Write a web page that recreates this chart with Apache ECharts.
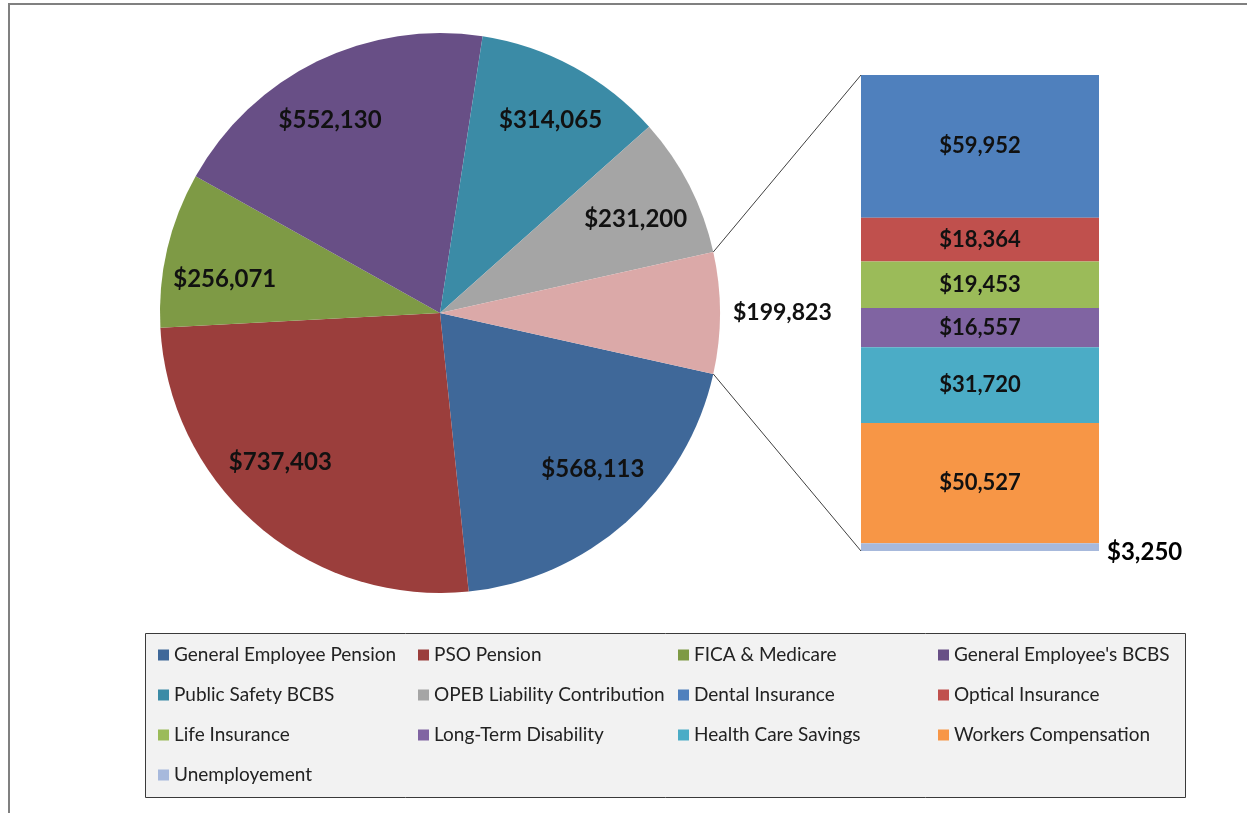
<!DOCTYPE html>
<html>
<head>
<meta charset="utf-8">
<script src="https://cdn.jsdelivr.net/npm/echarts@6/dist/echarts.min.js"></script>
<style>html,body{margin:0;padding:0;background:#fff}#c{width:1247px;height:813px}</style>
</head>
<body>
<div id="c"></div>
<script>
const pieNames = ['General Employee Pension', 'PSO Pension', 'FICA & Medicare', "General Employee's BCBS", 'Public Safety BCBS', 'OPEB Liability Contribution', 'Other'];
const pieValues = [568113, 737403, 256071, 552130, 314065, 231200, 199823];
const pieColors = ['#3f6899', '#9b3e3c', '#7e9a45', '#684f86', '#3b8ba6', '#a5a5a5', '#dba9a8'];
const barNames = ['Dental Insurance', 'Optical Insurance', 'Life Insurance', 'Long-Term Disability', 'Health Care Savings', 'Workers Compensation', 'Unemployement'];
const barValues = [59952, 18364, 19453, 16557, 31720, 50527, 3250];
const barColors = ['#4f80bd', '#c0504d', '#9bbb59', '#8064a2', '#4bacc6', '#f79646', '#a7b9dc'];
const barCategory = ['Other'];
const legendColumns = [
  ['General Employee Pension', 'Public Safety BCBS', 'Life Insurance', 'Unemployement'],
  ['PSO Pension', 'OPEB Liability Contribution', 'Long-Term Disability'],
  ['FICA & Medicare', 'Dental Insurance', 'Health Care Savings'],
  ["General Employee's BCBS", 'Optical Insurance', 'Workers Compensation']
];
// label nudges (styling only) to mimic the original label placement
const pieLabelNudges = [[6, -9], [-16, -19], [0, 16], [-13, 6], [5, 1], [-1, 7], [0, 0]];

const FONT = 'Lato';
const fmt = v => '$' + v.toLocaleString('en-US');
const total = pieValues.reduce((a, b) => a + b, 0);
const otherIdx = pieNames.indexOf('Other');
const startAngle = -pieValues[otherIdx] / total * 180;
const barTotal = barValues.reduce((a, b) => a + b, 0);

const chart = echarts.init(document.getElementById('c'), null, { renderer: 'canvas' });

const pieData = pieNames.map((n, i) => ({ name: n, value: pieValues[i], itemStyle: { color: pieColors[i] } }));
const labelData = pieNames.map((n, i) => {
  const d = { name: n, value: pieValues[i], label: { offset: pieLabelNudges[i] } };
  if (i === otherIdx) {
    d.label = { position: 'outside', fontSize: 23 };
    d.labelLine = { show: false, length: 4, length2: 4 };
  }
  return d;
});

const barSeries = barNames.map((n, i) => ({
  type: 'bar',
  name: n,
  stack: 'other',
  xAxisIndex: 0, yAxisIndex: 0,
  barWidth: '100%',
  data: [barValues[i]],
  itemStyle: { color: barColors[i] },
  label: i === barNames.length - 1 ? {
    show: true, position: 'right', distance: 8, offset: [0, 5],
    formatter: p => fmt(p.value),
    fontFamily: FONT, fontWeight: 'bold', fontSize: 24, color: '#000'
  } : {
    show: true, position: 'inside',
    formatter: p => fmt(p.value),
    fontFamily: FONT, fontWeight: 'bold', fontSize: 22, color: '#111'
  },
  emphasis: { disabled: true },
  animation: false
}));

const legends = legendColumns.map((col, k) => ({
  orient: 'vertical',
  left: 158 + k * 260,
  top: 645,
  padding: 0,
  itemGap: 20,
  itemWidth: 11,
  itemHeight: 11,
  icon: 'rect',
  selectedMode: false,
  data: col,
  textStyle: { fontFamily: FONT, fontSize: 19, color: '#222', lineHeight: 20 }
}));

chart.setOption({
  animation: false,
  backgroundColor: '#fff',
  legend: legends,
  grid: { left: 861, top: 75, width: 238, height: 476 },
  xAxis: { type: 'category', data: barCategory, show: false },
  yAxis: { type: 'value', min: 0, max: barTotal, inverse: true, show: false },
  graphic: [
    { id: 'frame', type: 'rect', shape: { x: 9, y: 4, width: 1400, height: 1000 }, style: { fill: 'none', stroke: '#808080', lineWidth: 2 }, silent: true, z: -10 },
    { id: 'legendBox', type: 'rect', shape: { x: 145.5, y: 633.5, width: 1040, height: 164 }, style: { fill: '#f2f2f2', stroke: '#3a3a3a', lineWidth: 1 }, silent: true, z: -5 }
  ],
  series: [
    {
      type: 'pie',
      center: [440, 313],
      radius: [0, 280],
      startAngle: startAngle,
      clockwise: true,
      avoidLabelOverlap: false,
      data: pieData,
      label: { show: false },
      labelLine: { show: false },
      itemStyle: { borderWidth: 0 },
      emphasis: { disabled: true },
      silent: true
    },
    {
      type: 'pie',
      center: [440, 313],
      radius: [156, 280],
      startAngle: startAngle,
      clockwise: true,
      avoidLabelOverlap: false,
      data: labelData,
      itemStyle: { color: 'rgba(0,0,0,0)' },
      label: {
        show: true, position: 'inside',
        formatter: p => fmt(p.value),
        fontFamily: FONT, fontWeight: 'bold', fontSize: 24, color: '#111'
      },
      labelLine: { show: false },
      emphasis: { disabled: true },
      silent: true
    }
  ].concat(barSeries)
});

// connector lines between the "Other" slice and the bar
(function () {
  let p1, p2, q1, q2;
  try {
    const model = chart.getModel();
    const lay = model.getSeriesByIndex(0).getData().getItemLayout(otherIdx);
    p1 = [lay.cx + lay.r * Math.cos(lay.startAngle), lay.cy + lay.r * Math.sin(lay.startAngle)];
    p2 = [lay.cx + lay.r * Math.cos(lay.endAngle), lay.cy + lay.r * Math.sin(lay.endAngle)];
    const rect = model.getComponent('grid', 0).coordinateSystem.getRect();
    q1 = [rect.x, rect.y];
    q2 = [rect.x, rect.y + rect.height];
  } catch (e) {
    return;
  }
  chart.setOption({
    graphic: [
      { id: 'c1', type: 'line', shape: { x1: p1[0], y1: p1[1], x2: q1[0], y2: q1[1] }, style: { stroke: '#404040', lineWidth: 1 }, silent: true, z: 10 },
      { id: 'c2', type: 'line', shape: { x1: p2[0], y1: p2[1], x2: q2[0], y2: q2[1] }, style: { stroke: '#404040', lineWidth: 1 }, silent: true, z: 10 }
    ]
  });
})();
</script>
</body>
</html>
